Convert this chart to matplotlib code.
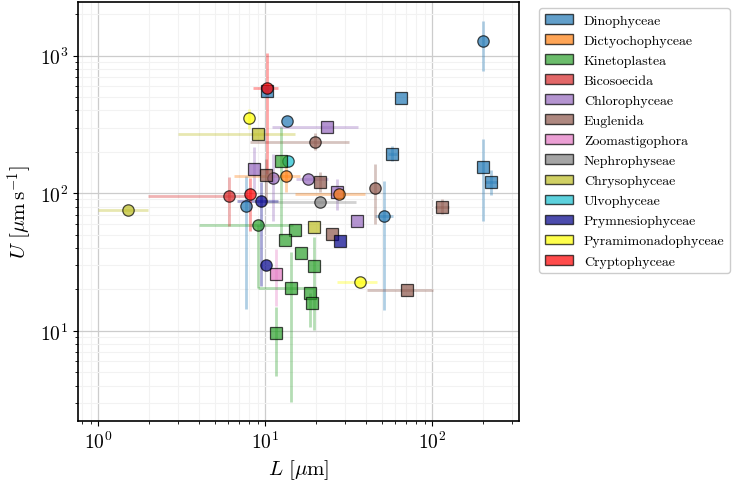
import numpy as np
import matplotlib
matplotlib.use('Agg')
import matplotlib.pyplot as plt
from matplotlib.patches import Patch

plt.rcParams['font.family'] = 'serif'
plt.rcParams['font.serif'] = ['cmr10']
plt.rcParams['mathtext.fontset'] = 'cm'
plt.rcParams['axes.formatter.use_mathtext'] = True

# --- Families (legend order) and colours
families = ['Dinophyceae', 'Dictyochophyceae', 'Kinetoplastea', 'Bicosoecida', 'Chlorophyceae',
            'Euglenida', 'Zoomastigophora', 'Nephrophyseae', 'Chrysophyceae', 'Ulvophyceae',
            'Prymnesiophyceae', 'Pyramimonadophyceae', 'Cryptophyceae']
colors = ['tab:blue', 'tab:orange', 'tab:green', 'tab:red', 'tab:purple',
          'tab:brown', 'tab:pink', 'tab:gray', 'tab:olive', 'tab:cyan',
          'darkblue', 'yellow', 'red']

# --- One entry per organism (drawing order)
fam   = ['Dinophyceae']*9 + ['Chlorophyceae']*6 + ['Ulvophyceae'] + ['Dictyochophyceae']*2 \
      + ['Euglenida']*7 + ['Zoomastigophora'] + ['Nephrophyseae'] + ['Chrysophyceae']*3 \
      + ['Kinetoplastea']*10 + ['Bicosoecida'] + ['Prymnesiophyceae']*3 \
      + ['Pyramimonadophyceae']*2 + ['Cryptophyceae']*2
shape = ['o','s','s','s','s','o','o','o','s',
         's','o','o','s','s','s',
         'o',
         'o','o',
         's','s','o','o','s','s','s',
         's',
         'o',
         'o','s','s',
         'o','s','s','s','s','s','s','s','s','s',
         'o',
         'o','o','s',
         'o','o',
         'o','o']
L     = [200, 65.2, 57.6, 200, 224.7, 51.4, 13.4, 7.63, 10.2,
         8.52, 11.07, 18.1, 23.5, 27.0, 35.3,
         13.6,
         13.25, 27.6,
         10.05, 21.3, 19.9, 45.2, 114.8, 70.3, 25.0,
         11.6,
         21.3,
         1.50, 9.0, 19.6,
         9.0, 12.4, 15.1, 13.2, 16.4, 19.5, 14.3, 18.5, 19.0, 11.6,
         6.04,
         9.38, 10.05, 28.0,
         8.02, 36.9,
         10.17, 8.09]
U     = [1285, 495, 193, 156, 121, 68.6, 333, 81, 556,
         150, 128, 127, 301, 101.6, 63,
         171,
         133, 99,
         136, 121, 237, 110, 79.8, 19.9, 50.5,
         26.0,
         86.7,
         75.2, 270, 57,
         59, 172, 54.3, 45.7, 36.6, 29.4, 20.3, 18.7, 15.9, 9.66,
         94.8,
         88.1, 30, 45.2,
         354, 22.5,
         582, 98.6]
nan = np.nan
L_lo  = [nan, nan, 54, nan, 207, 45.6, nan, nan, nan,
         nan, nan, 15.3, 11.0, nan, nan,
         nan,
         6.5, 15,
         nan, nan, 8.1, nan, 104, 40.5, nan,
         nan,
         10.2,
         1.0, 3.01, nan,
         4.0, nan, nan, nan, nan, nan, 9.08, nan, nan, nan,
         1.99,
         6.74, nan, nan,
         nan, 27,
         8.47, nan]
L_hi  = [nan, nan, 61.5, nan, 243, 58, nan, nan, nan,
         nan, nan, 23.7, 36.1, nan, nan,
         nan,
         16.1, 39.5,
         nan, nan, 31.9, nan, 126, 100.5, nan,
         nan,
         34.9,
         1.99, 15.1, nan,
         14.7, nan, nan, nan, nan, nan, 19.4, nan, nan, nan,
         8.0,
         11.97, nan, nan,
         nan, 46.4,
         11.97, nan]
U_lo  = [774, nan, 170, 63, 96.4, 14.1, nan, 14.4, nan,
         107, 63, nan, nan, 75, nan,
         nan,
         101.6, nan,
         83, 101.6, 205, 60, 71, nan, nan,
         15.2,
         nan,
         nan, nan, nan,
         20.4, 49, nan, nan, nan, 10.1, 3.03, 10.6, nan, 4.7,
         58,
         21.2, nan, nan,
         293, nan,
         138, 53]
U_hi  = [1787, nan, 222, 248, 146.6, 123, nan, 133, nan,
         217, 193, nan, nan, 126, nan,
         nan,
         186, nan,
         178, 142, 273, 163, 90, nan, nan,
         39,
         nan,
         nan, nan, nan,
         59, 303, nan, nan, nan, 48, 37.3, 18.7, nan, 14.9,
         131,
         120, nan, nan,
         409, nan,
         1047, 130]

colDict = dict(zip(families, colors))

fig, ax = plt.subplots(figsize=(7.33, 4.89), dpi=100)
fig.subplots_adjust(left=0.1064, right=0.708, bottom=0.137, top=0.994)

for f, m, x, y, xl, xh, yl, yh in zip(fam, shape, L, U, L_lo, L_hi, U_lo, U_hi):
    c = colDict[f]
    if not np.isnan(xl):
        ax.plot([xl, xh], [y, y], '-', c=c, lw=2.0, alpha=0.35, solid_capstyle='butt', zorder=2)
    if not np.isnan(yl):
        ax.plot([x, x], [yl, yh], '-', c=c, lw=2.0, alpha=0.35, solid_capstyle='butt', zorder=2)
    ax.plot(x, y, m, c=c, ms=8.2, mec='k', mew=0.9, alpha=0.7, zorder=3)

ax.set_xscale('log')
ax.set_yscale('log')
ax.set_xlim(0.756, 330)
ax.set_ylim(2.21, 2455)
ax.grid(True, which='major', color=(0.8, 0.8, 0.8), lw=0.9)
ax.grid(True, which='minor', color=(0.95, 0.95, 0.95), lw=0.8)
ax.set_axisbelow(True)
ax.tick_params(labelsize=14)
ax.set_xlabel(r'$L\ [\mu\mathrm{m}]$', fontsize=15)
ax.set_ylabel(r'$U\ [\mu\mathrm{m\,s}^{-1}]$', fontsize=15)
for sp in ax.spines.values():
    sp.set_linewidth(1.2)

handles = [Patch(facecolor=c, edgecolor='k', alpha=0.7, label=f) for f, c in zip(families, colors)]
fig.legend(handles=handles, loc='upper left', bbox_to_anchor=(0.736, 0.981), borderaxespad=0,
           fontsize=10, labelspacing=0.53, framealpha=1)

fig.savefig('out.png', dpi=100)
